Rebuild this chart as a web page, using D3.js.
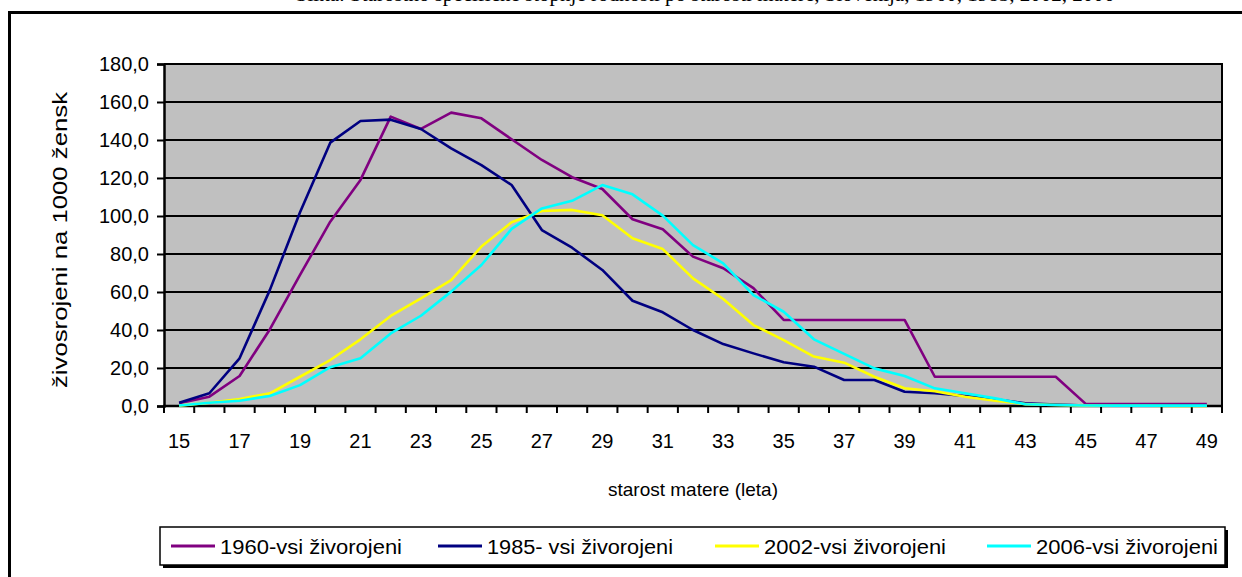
<!DOCTYPE html>
<html><head><meta charset="utf-8">
<script src="https://cdn.jsdelivr.net/npm/d3@7"></script>
<style>html,body{margin:0;padding:0;background:#fff;overflow:hidden}</style>
</head><body>
<svg id="c" width="1242" height="577"></svg>
<script>
const ages = [15,16,17,18,19,20,21,22,23,24,25,26,27,28,29,30,31,32,33,34,35,36,37,38,39,40,41,42,43,44,45,46,47,48,49];
const s1960 = [1.5,4.9,15.8,40.3,69,97,119,152.3,145.8,154.4,151.4,140.4,129.5,120.4,114.2,98.3,93,78.6,72.5,62,45.3,45.3,45.3,45.3,45.3,15.4,15.4,15.4,15.4,15.4,1.0,1.0,1.0,1.0,1.0];
const s1985 = [1.7,6.7,25.1,61,102,138.6,150,150.7,145.8,135.6,126.8,116.3,92.6,83.3,71.6,55.4,49.3,40,32.6,27.7,23,20.7,13.7,13.7,7.5,6.7,5.3,3.5,1.4,0.7,0.3,0.2,0.1,0.1,0.1];
const s2002 = [0.2,1.7,3.7,6.7,15.4,24.2,35.1,47.4,56.7,66.3,83.9,96.7,102.6,103.2,100.4,88.3,82.6,67.2,56.3,42.6,34.7,26,22.8,15.4,9.3,7.8,4.9,2.8,1,0.5,0.2,0.1,0.1,0.0,0.0];
const s2006 = [0.3,1.7,2.8,5.3,11,20.4,25.1,38.2,47.5,60.2,74.2,93.2,104,108,116.3,111.4,100.2,84.7,75.1,58.4,49.6,35.1,27.4,19.8,15.8,9.3,6.7,4,0.9,0.5,0.3,0.2,0.2,0.2,0.2];
const seriesNames = ["1960-vsi živorojeni","1985- vsi živorojeni","2002-vsi živorojeni","2006-vsi živorojeni"];
const seriesColors = ["#800080","#000080","#FFFF00","#00FFFF"];
const yTicks = [0,20,40,60,80,100,120,140,160,180];
const xLabelAges = [15,17,19,21,23,25,27,29,31,33,35,37,39,41,43,45,47,49];
const yTitle = "živosrojeni na 1000 žensk";
const xTitle = "starost matere (leta)";
const caption = "Slika: Starostno specifične stopnje rodnosti po starosti matere, Slovenija, 1960, 1985, 2002, 2006";

const svg = d3.select("#c");
const L = 164, R = 1222, T = 64, B = 406;
const x = d3.scaleBand().domain(ages).range([L, R]).padding(0);
const y = d3.scaleLinear().domain([0,180]).range([B, T]);
const font = "'Liberation Sans', Arial, sans-serif";

// clipped caption at top (only descenders visible, as in the reference)
svg.append("text").attr("x", 705).attr("y", 0.5).attr("text-anchor","middle")
  .attr("font-family","'Liberation Serif','Times New Roman',serif").attr("font-size",21)
  .text(caption);

// outer frame
svg.append("rect").attr("x",9.5).attr("y",12.5).attr("width",1300).attr("height",700)
  .attr("fill","none").attr("stroke","#000").attr("stroke-width",3);

// plot background
svg.append("rect").attr("x",L).attr("y",T).attr("width",R-L).attr("height",B-T).attr("fill","#C0C0C0");

// gridlines
svg.append("g").selectAll("line").data(yTicks.filter(d=>d>0)).join("line")
  .attr("x1",L).attr("x2",R).attr("y1",d=>y(d)).attr("y2",d=>y(d))
  .attr("stroke","#000").attr("stroke-width",2);
// right border
svg.append("line").attr("x1",R).attr("x2",R).attr("y1",T-1).attr("y2",B).attr("stroke","#000").attr("stroke-width",2);

// y axis
const yAxis = d3.axisLeft(y).tickValues(yTicks).tickSize(7).tickPadding(8)
  .tickFormat(d => d3.format(".1f")(d).replace(".", ","));
const gy = svg.append("g").attr("transform",`translate(${L},0)`).call(yAxis);
gy.select(".domain").attr("stroke","#000").attr("stroke-width",2.5);
gy.selectAll(".tick line").attr("stroke","#000").attr("stroke-width",2);
gy.selectAll("text").attr("font-family",font).attr("font-size",20).attr("fill","#000");

// x axis: ticks at category boundaries
const bounds = ages.map(a => x(a)).concat([R]);
svg.append("line").attr("x1",L-1).attr("x2",R+1).attr("y1",B).attr("y2",B).attr("stroke","#000").attr("stroke-width",2.5);
svg.append("g").selectAll("line").data(bounds).join("line")
  .attr("x1",d=>d).attr("x2",d=>d).attr("y1",B).attr("y2",B+7).attr("stroke","#000").attr("stroke-width",2);
svg.append("g").selectAll("text").data(xLabelAges).join("text")
  .attr("x",d=>x(d)+x.bandwidth()/2).attr("y",B+42).attr("text-anchor","middle")
  .attr("font-family",font).attr("font-size",20).text(d=>d);

// axis titles
svg.append("text").attr("x",693).attr("y",496).attr("text-anchor","middle")
  .attr("font-family",font).attr("font-size",19).text(xTitle);
svg.append("text").attr("transform","translate(67,240) rotate(-90)").attr("text-anchor","middle")
  .attr("font-family",font).attr("font-size",20)
  .attr("textLength",296).attr("lengthAdjust","spacingAndGlyphs").text(yTitle);

// lines
const allSeries = [s1960, s1985, s2002, s2006];
const line = d3.line().x((d,i)=>x(ages[i])+x.bandwidth()/2).y(d=>y(d));
svg.append("g").selectAll("path").data(allSeries).join("path")
  .attr("d", d=>line(d)).attr("fill","none")
  .attr("stroke",(d,i)=>seriesColors[i]).attr("stroke-width",2.6).attr("stroke-linejoin","round");

// legend
svg.append("rect").attr("x",163).attr("y",530).attr("width",1065).attr("height",38).attr("fill","#000");
svg.append("rect").attr("x",160).attr("y",527).attr("width",1065).attr("height",38)
  .attr("fill","#fff").attr("stroke","#000").attr("stroke-width",1.5);
const legX = [171, 438, 715, 987];
const legW = [182, 186, 182, 182];
const lg = svg.append("g").selectAll("g").data(seriesNames).join("g")
  .attr("transform",(d,i)=>`translate(${legX[i]},546)`);
lg.append("line").attr("x1",0).attr("x2",44).attr("y1",0).attr("y2",0)
  .attr("stroke",(d,i)=>seriesColors[i]).attr("stroke-width",3);
lg.append("text").attr("x",49).attr("y",7.5).attr("font-family",font).attr("font-size",20)
  .attr("textLength",(d,i)=>legW[i]).attr("lengthAdjust","spacingAndGlyphs").text(d=>d);
</script>
</body></html>
